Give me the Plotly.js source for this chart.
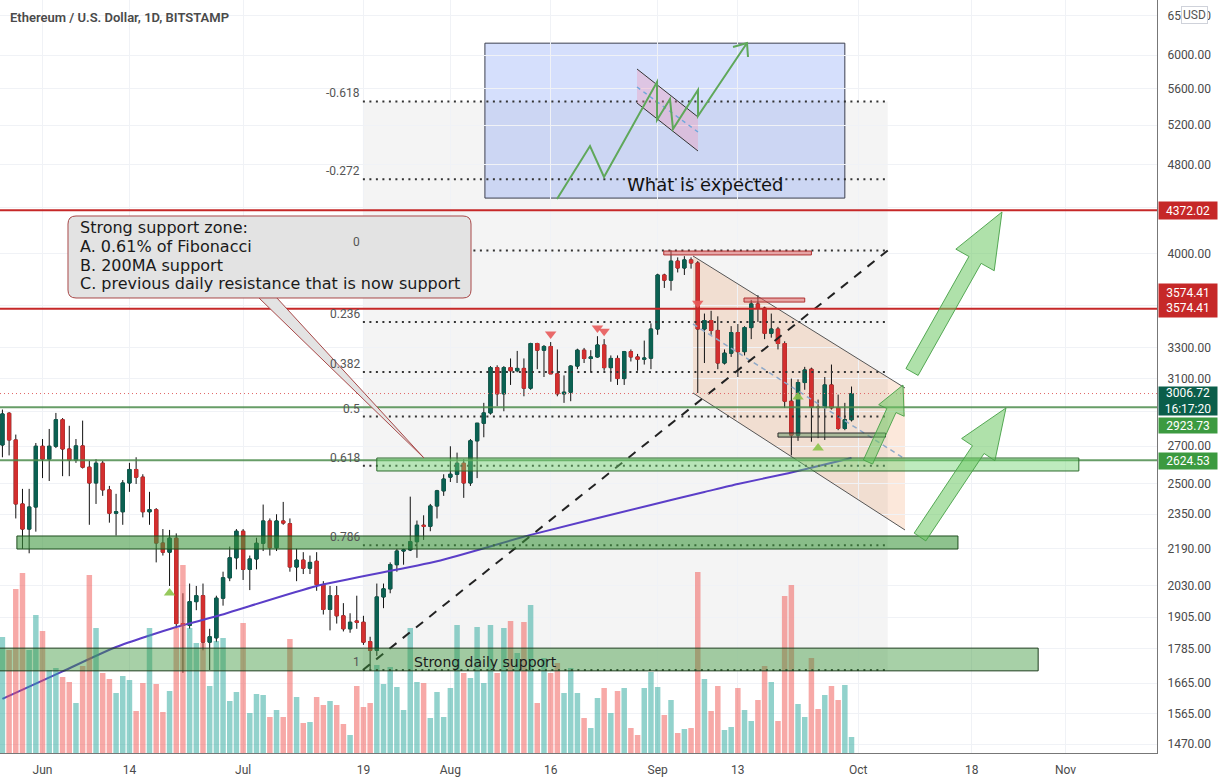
<!DOCTYPE html>
<html><head><meta charset="utf-8">
<script src="https://cdn.plot.ly/plotly-3.0.1.min.js"></script>
<style>html,body{margin:0;padding:0;background:#fff;overflow:hidden}#chart{width:1225px;height:781px}</style>
</head><body><div id="chart"></div>
<script>
// ---------------- DATA (daily candles from 2021-05-26 to 2021-09-30) ----------------
const firstDay = [2021, 4, 26];
const opens = [
2707,2888,2735,2400,2280,2385,
2700,2630,2700,2850,2685,2625,2702,2587,2505,2608,2470,2355,2362,2505,2575,2535,2362,2372,2216,2175,2238,1880,1873,1966,1990,1810,1826,1980,2064,2150,
2270,2100,2145,2215,2318,2195,2318,2305,2110,2140,2105,2135,2035,1935,1990,1910,1860,1890,1885,1812,1780,1985,2018,2120,2180,2185,2222,2298,2293,2390,2465,
2535,2550,2608,2505,2730,2830,2890,3170,3005,3170,3150,3165,3040,3330,3285,3310,3130,3005,3015,3180,3285,3230,3240,3320,3170,3230,3100,3275,3240,3225,3232,
3430,3830,3790,3940,3885,3950,3925,3430,3490,3420,3200,3265,3405,3275,3440,3610,3580,3400,3430,3330,2960,2762,3075,3160,2925,2922,3060,2920,2800,2850];
const highs = [
2910,2895,2765,2475,2475,2718,
2740,2797,2890,2860,2815,2740,2845,2620,2630,2620,2490,2450,2520,2610,2640,2550,2460,2380,2280,2276,2260,2000,2040,2030,2040,1860,1990,2090,2200,2280,
2280,2160,2240,2397,2330,2350,2410,2330,2190,2175,2160,2175,2050,2030,2030,1960,1920,1990,1910,1830,2040,2040,2130,2190,2190,2436,2320,2345,2400,2470,2550,
2700,2665,2630,2740,2830,2950,3180,3185,3180,3230,3280,3230,3335,3335,3320,3340,3290,3120,3185,3295,3300,3285,3380,3360,3250,3250,3280,3290,3260,3350,3470,
3840,3840,4027,3970,3980,3970,3940,3540,3560,3520,3290,3450,3465,3450,3640,3675,3590,3540,3445,3345,3100,3095,3175,3170,2970,3110,3190,3000,2950,3050];
const lows = [
2640,2650,2330,2190,2170,2268,
2530,2515,2690,2540,2540,2610,2580,2300,2400,2440,2310,2250,2300,2460,2500,2335,2300,2130,2160,2030,1862,1700,1860,1932,1780,1710,1810,1950,2050,2100,
2055,2013,2100,2180,2160,2180,2300,2090,2050,2080,2080,2010,1915,1854,1880,1850,1845,1860,1800,1710,1760,1940,2000,2090,2120,2180,2150,2230,2270,2330,2440,
2510,2505,2430,2490,2530,2750,2880,2930,2900,3060,3140,2990,3030,3160,3110,3140,2990,2950,2960,3160,3200,3140,3235,3150,3080,3060,3060,3210,3150,3190,3160,
3390,3730,3710,3850,3830,3880,3010,3200,3390,3160,3190,3240,3110,3250,3360,3480,3360,3370,3290,2920,2650,2730,3030,2725,2745,2735,2910,2790,2790,2840];
const closes = [
2884,2735,2400,2280,2385,2700,
2630,2700,2850,2685,2625,2702,2587,2505,2608,2470,2355,2362,2505,2575,2535,2362,2372,2216,2175,2238,1880,1873,1966,1990,1810,1830,1980,2064,2150,2270,
2100,2145,2215,2318,2195,2318,2308,2110,2140,2105,2130,2035,1935,1990,1910,1860,1885,1885,1810,1780,1985,2018,2120,2180,2185,2222,2298,2293,2390,2465,2525,
2550,2608,2505,2730,2830,2890,3170,3005,3170,3150,3165,3040,3330,3285,3310,3130,3005,3015,3180,3285,3230,3240,3320,3170,3230,3100,3275,3240,3225,3232,3430,
3830,3790,3940,3885,3950,3925,3430,3490,3420,3200,3265,3405,3275,3440,3610,3580,3400,3430,3330,2960,2762,3075,3155,2925,2922,3060,2920,2800,2850,3006.72];
const volumes = [
116,103,164,180,103,138,
122,83,85,76,71,50,87,178,125,80,74,60,77,73,42,70,125,69,41,62,125,188,125,110,110,67,112,115,52,61,
130,40,59,58,36,43,36,114,56,30,31,56,48,52,48,29,18,67,46,50,88,69,86,66,43,125,71,70,35,61,36,
65,128,80,75,126,70,128,80,125,132,100,131,148,50,95,80,90,60,85,60,35,25,55,65,40,62,65,25,18,65,81,
66,38,53,20,24,25,181,74,42,67,23,26,65,43,32,53,87,71,32,157,168,49,36,95,44,58,67,53,68,16];
const maDates  = ['2021-05-26','2021-06-04','2021-06-12','2021-06-21','2021-06-27','2021-07-12','2021-07-30','2021-08-13','2021-08-31','2021-09-08','2021-09-13','2021-09-20','2021-09-30'];
const maValues = [1612,1705,1792,1867,1908,2030,2135,2253,2395,2459,2500,2551,2636];
const fibRatios = [-0.618,-0.272,0,0.236,0.382,0.5,0.618,0.786,1];
const fibHigh = 4027, fibLow = 1710;
const fibStart = '2021-07-18 22:00', fibEnd = '2021-10-05 10:00';
const redLevels = [4372.02, 3574.41];
const greenLevels = [2923.73, 2624.53];
const lastPrice = 3006.72;
const countdown = '16:17:20';
const downSignalDates = ['2021-08-16','2021-08-23','2021-08-24','2021-09-07'];
const downSignalPrices = [3396,3437,3415,3616];
const upSignalDates = ['2021-06-20','2021-09-22','2021-09-25'];
const upSignalPrices = [2001,2985,2690];
const yTicks = [1470,1565,1665,1785,1905,2030,2190,2350,2500,2700,2900,3100,3300,3600,4000,4400,4800,5200,5600,6000,6500];
const yTicksHiddenByLabels = [2900,3600,4400];
const xTickDates = ['2021-06-01','2021-06-14','2021-07-01','2021-07-19','2021-08-01','2021-08-16','2021-09-01','2021-09-13','2021-10-01','2021-10-18','2021-11-01'];
const xTickLabels = ['Jun','14','Jul','19','Aug','16','Sep','13','Oct','18','Nov'];
const titleText = 'Ethereum / U.S. Dollar, 1D, BITSTAMP';
const calloutLines = ['Strong support zone:','A. 0.61% of Fibonacci','B. 200MA support','C. previous daily resistance that is now support'];

// zones (price bands)
const zoneFib618 = {x0:'2021-07-21', x1:'2021-11-03', lo:2567, hi:2636};
const zone786    = {x0:'2021-05-28 04:00', x1:'2021-10-15 22:00', lo:2189, hi:2248};
const zoneDaily  = {x0:'2021-05-20', x1:'2021-10-27 22:00', lo:1707, hi:1788};
const zoneSep    = {x0:'2021-09-19', x1:'2021-10-05 02:00', lo:2751, hi:2774};
const resTop1    = {x0:'2021-09-01 22:00', x1:'2021-09-24', lo:3990, hi:4022};
const resTop2    = {x0:'2021-09-13 22:00', x1:'2021-09-23', lo:3624, hi:3654};
const expectBox  = {x0:'2021-08-06 04:00', x1:'2021-09-29', lo:4481, hi:6148};

// ---------------- BUILD ----------------
const dates = opens.map((_, i) => new Date(Date.UTC(firstDay[0], firstDay[1], firstDay[2] + i)).toISOString().slice(0,10));
const up = closes.map((c,i)=> c >= opens[i]);
const FONT = 'Roboto, "Open Sans", sans-serif';
const DRAW_FONT = '"DejaVu Sans", Verdana, sans-serif';
const GREEN_C = '#0b6152', RED_C = '#d32f2f';
const fibLevel = r => fibHigh - r*(fibHigh - fibLow);

const traces = [
  {type:'bar', x:dates, y:volumes, yaxis:'y2', hoverinfo:'skip',
   marker:{color: up.map(u=> u ? 'rgba(38,166,154,0.5)' : 'rgba(239,83,80,0.5)'), line:{width:0}}},
  {type:'scatter', mode:'lines', x:maDates, y:maValues, hoverinfo:'skip',
   line:{color:'#5b3ec8', width:2, shape:'spline', smoothing:0.6}},
  {type:'candlestick', x:dates, open:opens, high:highs, low:lows, close:closes, hoverinfo:'skip',
   increasing:{line:{color:'#111', width:1}, fillcolor:'#111'},
   decreasing:{line:{color:'#111', width:1}, fillcolor:'#111'}},
  {type:'candlestick', x:dates, open:opens, close:closes, hoverinfo:'skip',
   high:opens.map((o,i)=>Math.max(o,closes[i])), low:opens.map((o,i)=>Math.min(o,closes[i])),
   increasing:{line:{color:GREEN_C, width:1}, fillcolor:GREEN_C},
   decreasing:{line:{color:RED_C, width:1}, fillcolor:RED_C}},
  {type:'scatter', mode:'markers', x:downSignalDates, y:downSignalPrices, hoverinfo:'skip',
   marker:{symbol:'triangle-down', size:10, color:'rgba(232,90,90,0.9)'}},
  {type:'scatter', mode:'markers', x:upSignalDates, y:upSignalPrices, hoverinfo:'skip',
   marker:{symbol:'triangle-up', size:10, color:'rgba(139,195,74,0.9)'}}
];

// pixel helpers for free-hand drawings (plot area 1157 x 753)
const PW = 1157, PH = 753;
const X = x => (x/PW).toFixed(5), Y = y => (1 - y/PH).toFixed(5);
const poly = (pts, close=true) => pts.map((p,i)=>(i?'L ':'M ')+X(p[0])+','+Y(p[1])).join(' ') + (close?' Z':'');
function arrowPoly(x0,y0,x1,y1,sw,hw,hl){
  const dx=x1-x0, dy=y1-y0, L=Math.hypot(dx,dy), ux=dx/L, uy=dy/L, nx=-uy, ny=ux;
  const bx=x1-ux*hl, by=y1-uy*hl;
  return [[x0+nx*sw,y0+ny*sw],[bx+nx*sw,by+ny*sw],[bx+nx*hw,by+ny*hw],[x1,y1],[bx-nx*hw,by-ny*hw],[bx-nx*sw,by-ny*sw],[x0-nx*sw,y0-ny*sw]];
}
function roundRect(x0,y0,x1,y1,r){
  return `M ${X(x0+r)},${Y(y0)} L ${X(x1-r)},${Y(y0)} Q ${X(x1)},${Y(y0)} ${X(x1)},${Y(y0+r)} L ${X(x1)},${Y(y1-r)} Q ${X(x1)},${Y(y1)} ${X(x1-r)},${Y(y1)} L ${X(x0+r)},${Y(y1)} Q ${X(x0)},${Y(y1)} ${X(x0)},${Y(y1-r)} L ${X(x0)},${Y(y0+r)} Q ${X(x0)},${Y(y0)} ${X(x0+r)},${Y(y0)} Z`;
}
const P = (path, fill, line, layer='above') => ({type:'path', xref:'paper', yref:'paper', path, fillcolor:fill, line, layer});
const rectZ = (z, fill, lc, layer='above') => ({type:'rect', xref:'x', yref:'y', x0:z.x0, x1:z.x1, y0:z.lo, y1:z.hi, fillcolor:fill, line:{color:lc, width:1}, layer});
const hline = (v, color, width, dash) => ({type:'line', xref:'paper', x0:0, x1:1, yref:'y', y0:v, y1:v, line:{color, width, dash}, layer:'above'});

const shapes = [];
shapes.push(P(poly([[693,256],[905,388],[905,530],[693,393]]), 'rgba(240,120,40,0.17)', {width:0}, 'below'));
shapes.push({type:'rect', xref:'x', yref:'y', x0:fibStart, x1:fibEnd, y0:fibLevel(1), y1:fibLevel(-0.618), fillcolor:'rgba(0,0,0,0.045)', line:{width:0}, layer:'below'});
shapes.push(rectZ(expectBox, 'rgba(64,108,240,0.22)', '#3b3f4f', 'below'));
shapes.push(P(poly([[693,256],[905,388]],false), null, {color:'#555', width:1}));
shapes.push(P(poly([[693,393],[905,530]],false), null, {color:'#555', width:1}));
shapes.push(P(poly([[693,324],[905,459]],false), null, {color:'#8fa9c8', width:1.5, dash:'5px,4px'}));
fibRatios.forEach(r => shapes.push({type:'line', xref:'x', yref:'y', x0:fibStart, x1:fibEnd, y0:fibLevel(r), y1:fibLevel(r), line:{color:'#333', width:2, dash:'2px,4.5px'}, layer:'above'}));
shapes.push({type:'line', xref:'x', yref:'y', x0:fibStart, y0:fibLow, x1:fibEnd, y1:fibHigh, line:{color:'#222', width:2, dash:'9px,8px'}, layer:'above'});
redLevels.forEach(v => shapes.push(hline(v, '#c62828', 2)));
greenLevels.forEach(v => shapes.push(hline(v, 'rgba(76,140,76,0.85)', 2)));
shapes.push(hline(lastPrice, '#e06666', 1, '1px,3px'));
shapes.push(rectZ(zoneFib618, 'rgba(110,210,110,0.45)', '#2e6b2e'));
shapes.push(rectZ(zone786, 'rgba(60,150,60,0.58)', '#1e4d1e'));
shapes.push(rectZ(zoneDaily, 'rgba(60,150,60,0.45)', '#1e3d1e'));
shapes.push(rectZ(zoneSep, 'rgba(100,150,100,0.5)', '#2a2a2a'));
shapes.push(rectZ(resTop1, 'rgba(220,100,100,0.55)', '#b03030'));
shapes.push(rectZ(resTop2, 'rgba(220,100,100,0.55)', '#b03030'));
shapes.push(P(poly([[637,69],[698,117],[698,151],[637,103]]), 'rgba(240,150,180,0.35)', {width:0}));
shapes.push(P(poly([[637,69],[698,117]],false), null, {color:'#333', width:1}));
shapes.push(P(poly([[637,103],[698,151]],false), null, {color:'#333', width:1}));
shapes.push(P(poly([[637,87],[698,132]],false), null, {color:'#6fa8dc', width:1.5, dash:'4px,4px'}));
shapes.push(P(poly([[557,199],[590,146],[604,177],[657,82],[657,120],[670,99],[673,129],[698,90],[698,116],[747,43]],false), null, {color:'#5fa85a', width:2}));
shapes.push(P(poly([[733,47],[747,43],[748,57]],false), null, {color:'#5fa85a', width:2}));
[[868,462,903,385,5,14,28],[912,372,1002,212,7,22,55],[920,537,1006,408,7,20,50]].forEach(a =>
  shapes.push(P(poly(arrowPoly(...a)), 'rgba(110,200,100,0.55)', {color:'rgba(70,160,70,0.9)', width:1})));
shapes.push(P(poly([[258,297],[276,297],[424,458]]), '#e3e3e3', {color:'#a84848', width:1}));
shapes.push(P(roundRect(68,216,471,298,8), '#e3e3e3', {color:'#a84848', width:1}));

const annotations = [];
const A = o => annotations.push(Object.assign({showarrow:false}, o));
A({xref:'paper', yref:'paper', x:X(8), y:Y(18), xanchor:'left', yanchor:'middle', text:titleText, font:{family:FONT, size:13, color:'#4a4a4a', weight:600}});
fibRatios.forEach(r => A({xref:'x', yref:'y', x:'2021-07-18 18:00', y:Math.log10(fibLevel(r)), xanchor:'right', yanchor:'middle', yshift:8, text:String(r), font:{family:FONT, size:12, color:'#555'}}));
calloutLines.forEach((t,i)=> A({xref:'paper', yref:'paper', x:X(78), y:Y(227.5+i*18.8), xanchor:'left', yanchor:'middle', text:t, font:{family:DRAW_FONT, size:16, color:'#1a1a1a'}}));
A({xref:'paper', yref:'paper', x:X(485), y:Y(662), xanchor:'center', yanchor:'middle', text:'Strong daily support', font:{family:DRAW_FONT, size:14, color:'#1a1a1a'}});
A({xref:'paper', yref:'paper', x:X(705), y:Y(185), xanchor:'center', yanchor:'middle', text:'What is expected', font:{family:DRAW_FONT, size:18, color:'#111'}});
const axLabel = (price, text, bg, shift, h) => A({xref:'paper', yref:'y', x:1, y:Math.log10(price), xanchor:'left', yanchor:'middle', xshift:1, yshift:shift, text, bgcolor:bg, borderpad:1, width:56, height:h, align:'center', font:{family:FONT, size:12, color:'#fff'}});
axLabel(redLevels[0], redLevels[0].toFixed(2), '#c62828', 0, 15);
axLabel(redLevels[1], redLevels[1].toFixed(2)+'<br>'+redLevels[1].toFixed(2), '#c62828', 8.5, 31);
axLabel(lastPrice, lastPrice.toFixed(2)+'<br>'+countdown, '#0b5e4a', -7, 26);
axLabel(greenLevels[0], greenLevels[0].toFixed(2), '#3c9a40', -18, 13);
axLabel(greenLevels[1], greenLevels[1].toFixed(2), '#3c9a40', -1, 14);
A({xref:'paper', yref:'paper', x:1, y:Y(15), xanchor:'left', yanchor:'middle', xshift:24, text:'USD', bgcolor:'#fff', bordercolor:'#cfd2da', borderwidth:1, borderpad:1, font:{family:FONT, size:12, color:'#555'}});

const layout = {
  width:1225, height:781, margin:{l:0, r:68, t:0, b:28, pad:0},
  paper_bgcolor:'#fff', plot_bgcolor:'#fff', showlegend:false, bargap:0.18,
  font:{family:FONT, size:12, color:'#4a4a4a'},
  xaxis:{type:'date', range:['2021-05-25 15:20','2021-11-14 16:34'], rangeslider:{visible:false},
    tickvals:xTickDates, ticktext:xTickLabels, ticks:'', ticklabelstandoff:6,
    showgrid:true, gridcolor:'#f0f2f6', zeroline:false, showline:true, linecolor:'#777', linewidth:1,
    tickfont:{family:FONT, size:12, color:'#4a4a4a'}, fixedrange:true},
  yaxis:{type:'log', side:'right', range:[3.1594, 3.8270], tickvals:yTicks,
    ticktext:yTicks.map(v=> yTicksHiddenByLabels.includes(v) ? '' : v.toFixed(2)),
    ticks:'', ticklabelstandoff:7, showgrid:true, gridcolor:'#f0f2f6', zeroline:false, showline:true, linecolor:'#777', linewidth:1,
    tickfont:{family:FONT, size:12, color:'#4a4a4a'}, fixedrange:true},
  yaxis2:{overlaying:'y', range:[0,753], visible:false, fixedrange:true},
  shapes, annotations
};
Plotly.newPlot('chart', traces, layout, {displayModeBar:false, staticPlot:true});
</script></body></html>
